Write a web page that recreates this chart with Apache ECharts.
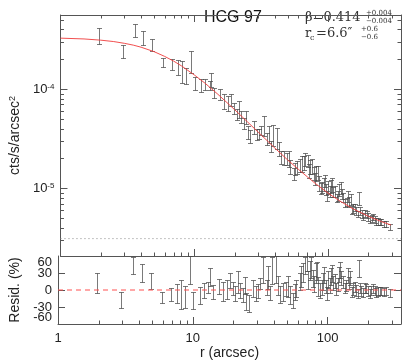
<!DOCTYPE html>
<html>
<head>
<meta charset="utf-8">
<title>HCG 97 profile</title>
<style>
  html, body { margin: 0; padding: 0; background: #fff; }
  #main { width: 409px; height: 361px; }
</style>
</head>
<body>
<div id="main"></div>
<script src="https://cdn.jsdelivr.net/npm/echarts@6/dist/echarts.min.js"></script>
<script>
// radial profile points (arcsec), surface brightness (cts/s/arcsec^2),
// residual (%) and error (%)
var radius = [
  1.95, 2.93, 3.61, 4.17, 4.86, 5.86, 6.84, 7.57, 8.15, 8.73,
  9.5, 10.05, 11.3, 12.06, 13.0, 13.4, 14.1, 15.6, 16.8, 17.8,
  18.8, 19.9, 20.7, 21.7, 22.5, 23.6, 24.3, 25.0, 26.1, 28.0,
  29.6, 30.4, 31.3, 33.2, 35.2, 36.1, 37.2, 38.9, 41.7, 42.9,
  44.1, 46.7, 49.4, 50.8, 52.3, 55.4, 57.0, 58.6, 62.1, 63.8,
  65.7, 67.6, 70.3, 71.5, 73.6, 75.7, 77.9, 79.7, 81.5, 83.3,
  84.8, 88.3, 90.3, 92.3, 94.5, 96.6, 98.8, 100.5, 103.5, 105.2,
  107.1, 109.5, 112.6, 115.9, 118.6, 121.3, 123.8, 126.3, 129.2, 133.6,
  137.6, 141.4, 144.3, 147.1, 150.6, 153.9, 158.5, 161.2, 166.9, 170.6,
  174.1, 177.7, 182.5, 188.0, 193.6, 199.0, 204.8, 210.8, 216.6, 223.0,
  229.4, 236.0, 242.7, 250.1, 259.9, 272.2, 287.8
];
var brightness = [
  3.50e-4, 2.42e-4, 3.95e-4, 3.33e-4, 2.80e-4, 1.87e-4, 1.79e-4, 1.68e-4, 1.54e-4, 1.38e-4,
  1.96e-4, 1.14e-4, 1.11e-4, 1.12e-4, 1.09e-4, 1.24e-4, 9.2e-5, 8.96e-5, 7.56e-5, 7.25e-5,
  7.84e-5, 6.43e-5, 5.58e-5, 6.38e-5, 5.27e-5, 4.56e-5, 5.22e-5, 3.73e-5, 3.39e-5, 4.15e-5,
  3.52e-5, 3.54e-5, 3.86e-5, 4.40e-5, 3.16e-5, 3.54e-5, 2.66e-5, 3.54e-5, 3.29e-5, 2.52e-5,
  2.07e-5, 2.03e-5, 1.99e-5, 1.99e-5, 1.66e-5, 1.40e-5, 1.58e-5, 1.64e-5, 1.72e-5, 1.79e-5,
  1.83e-5, 1.95e-5, 1.90e-5, 1.50e-5, 1.66e-5, 1.68e-5, 1.41e-5, 1.245e-5, 1.44e-5, 1.45e-5,
  1.13e-5, 1.005e-5, 1.03e-5, 1.11e-5, 1.19e-5, 9.78e-6, 8.46e-6, 1.04e-5, 9.32e-6, 1.055e-5,
  1.09e-5, 9.23e-6, 9.32e-6, 8.0e-6, 8.46e-6, 9.65e-6, 1.01e-5, 8.82e-6, 8.14e-6, 7.16e-6,
  7.32e-6, 8.34e-6, 7.28e-6, 7.74e-6, 6.03e-6, 6.32e-6, 6.43e-6, 5.94e-6, 5.51e-6, 7.98e-6,
  5.93e-6, 5.51e-6, 5.25e-6, 5.58e-6, 5.42e-6, 5.11e-6, 4.83e-6, 5.01e-6, 5.14e-6, 4.87e-6,
  4.60e-6, 4.64e-6, 4.62e-6, 4.59e-6, 4.36e-6, 4.39e-6, 4.09e-6
];
var resid = [
  12, -17, 44, 30, 16, -13, -8, -6, -8, -12,
  35, -18, -9, -1, 5, 23, -3, 6, -2, 1,
  17, 3, -6, 14, -1, -9, 8, -20, -23, 3,
  -6, -2, 11, 36, 5, 22, -5, 34, 36, 8,
  -8, -3, 2, 6, -9, -18, -4, 3, 15, 24,
  31, 44, 47, 18, 35, 40, 21, 10, 30, 34,
  6, -1, 4, 15, 26, 6, -6, 18, 8, 24,
  30, 12, 16, 2, 10, 28, 36, 21, 14, 3,
  8, 26, 12, 21, -4, 2, 6, -1, -6, 38,
  4, -2, -5, 3, 2, -2, -6, -1, 3, -1,
  -5, -3, -2, -1, -4, -1, -5
];
var errPct = [
  18, 14, 15, 16, 14, 10, 12, 17, 25, 19,
  25, 15, 15, 13, 10, 16, 12, 13, 17, 17,
  13, 12, 13, 19, 13, 13, 15, 15, 15, 15,
  13, 12, 10, 23, 13, 20, 12, 24, 24, 16,
  15, 16, 13, 18, 16, 13, 14, 15, 15, 18,
  16, 15, 14, 16, 17, 18, 15, 14, 17, 16,
  17, 13, 13, 15, 14, 12, 12, 15, 13, 15,
  15, 12, 12, 10, 12, 13, 14, 12, 11, 9,
  10, 13, 11, 12, 9, 10, 9, 10, 8, 15,
  9, 9, 8, 9, 8, 9, 8, 8, 8, 8,
  8, 8, 7, 7, 7, 7, 7
];

// beta-model fit curve
var modelR = [1, 1.5, 2, 2.5, 3, 3.5, 4, 5, 6, 7, 8, 10, 12, 15, 20, 25, 30, 35, 40, 50,
  60, 70, 80, 100, 120, 150, 200, 250, 295];
var modelSb = [3.27e-4, 3.21e-4, 3.12e-4, 3.02e-4, 2.90e-4, 2.78e-4, 2.65e-4, 2.39e-4, 2.14e-4, 1.92e-4,
  1.72e-4, 1.39e-4, 1.15e-4, 8.87e-5, 6.21e-5, 4.66e-5, 3.68e-5, 3.02e-5, 2.54e-5, 1.92e-5,
  1.55e-5, 1.30e-5, 1.12e-5, 8.9e-6, 7.55e-6, 6.3e-6, 5.2e-6, 4.6e-6, 4.25e-6];
var bkgLevel = 3.1e-6;

var xRange = [1, 350];
var sbRange = [2.07e-6, 5.6e-4];
var residRange = [-60, 60];
var residTicks = 30;
var xMinorTicks = [2, 3, 4, 5, 6, 7, 8, 9, 20, 30, 40, 50, 60, 70, 80, 90, 200, 300];
var yMinorTicks = [3e-6, 4e-6, 5e-6, 6e-6, 7e-6, 8e-6, 9e-6,
  2e-5, 3e-5, 4e-5, 5e-5, 6e-5, 7e-5, 8e-5, 9e-5, 2e-4, 3e-4, 4e-4, 5e-4];

var groupName = 'HCG 97';
var betaText = ['0.414', '+0.004', '\u22120.004'];
var rcText = ['6.6', '+0.6', '\u22120.6'];

var axisColor = '#555';
var barColor = 'rgba(70,70,70,0.72)';
var sansFont = '"Liberation Sans", Arial, sans-serif';
var serifFont = '"DejaVu Serif", serif';

var chart = echarts.init(document.getElementById('main'));

var sbBars = radius.map(function (r, i) {
  var e = errPct[i] / 100;
  return [r, brightness[i], brightness[i] * (1 - e), brightness[i] * (1 + e)];
});
var residBars = radius.map(function (r, i) {
  return [r, resid[i], resid[i] - errPct[i], resid[i] + errPct[i]];
});

function errorBar(params, api) {
  var x = Math.round(api.coord([api.value(0), api.value(1)])[0]) + 0.5;
  var lo = Math.round(api.coord([api.value(0), api.value(2)])[1]) + 0.5;
  var hi = Math.round(api.coord([api.value(0), api.value(3)])[1]) + 0.5;
  var st = { stroke: barColor, lineWidth: 1 };
  return {
    type: 'group',
    children: [
      { type: 'line', shape: { x1: x, y1: lo, x2: x, y2: hi }, style: st },
      { type: 'line', shape: { x1: x - 2.5, y1: lo, x2: x + 2.5, y2: lo }, style: st },
      { type: 'line', shape: { x1: x - 2.5, y1: hi, x2: x + 2.5, y2: hi }, style: st }
    ]
  };
}

// minor ticks of the log axes, drawn inward
function xMinorItem(bothSides) {
  return function (params, api) {
    var cs = params.coordSys;
    var x = Math.round(api.coord([api.value(0), api.value(1)])[0]) + 0.5;
    var st = { stroke: axisColor, lineWidth: 1 };
    var bottom = cs.y + cs.height;
    var kids = [{ type: 'line', shape: { x1: x, y1: bottom, x2: x, y2: bottom - 3.5 }, style: st }];
    if (bothSides) {
      kids.push({ type: 'line', shape: { x1: x, y1: cs.y, x2: x, y2: cs.y + 3.5 }, style: st });
    }
    return { type: 'group', children: kids };
  };
}
function yMinorItem(params, api) {
  var cs = params.coordSys;
  var y = Math.round(api.coord([api.value(0), api.value(1)])[1]) + 0.5;
  var st = { stroke: axisColor, lineWidth: 1 };
  var right = cs.x + cs.width;
  return {
    type: 'group',
    children: [
      { type: 'line', shape: { x1: cs.x, y1: y, x2: cs.x + 3.5, y2: y }, style: st },
      { type: 'line', shape: { x1: right, y1: y, x2: right - 3.5, y2: y }, style: st }
    ]
  };
}

function isPow10(v) {
  var e = Math.log10(v);
  return Math.abs(e - Math.round(e)) < 1e-6;
}

var lineOpt = { lineStyle: { color: axisColor, width: 1 }, onZero: false };
var tickOpt = { inside: true, length: 7, lineStyle: { color: axisColor } };

function xAxisOf(grid, pos, labels) {
  return {
    gridIndex: grid, type: 'log', logBase: 10, min: xRange[0], max: xRange[1], position: pos,
    axisLine: lineOpt, axisTick: tickOpt, splitLine: { show: false },
    name: labels ? 'r (arcsec)' : '', nameLocation: 'middle', nameGap: 21,
    nameTextStyle: { fontSize: 14, color: '#222', fontFamily: sansFont },
    axisLabel: {
      show: labels, margin: 8, fontSize: 13, color: '#222', fontFamily: sansFont,
      showMinLabel: true, showMaxLabel: false,
      formatter: function (v) { return isPow10(v) ? String(Math.round(v)) : ''; }
    }
  };
}

function sbAxis(pos, labels) {
  return {
    gridIndex: 0, type: 'log', logBase: 10, min: sbRange[0], max: sbRange[1], position: pos,
    axisLine: lineOpt, axisTick: tickOpt, splitLine: { show: false },
    name: labels ? '{a|cts/s/arcsec}{s|2}' : '', nameLocation: 'middle', nameGap: 33,
    nameTextStyle: {
      color: '#222', fontFamily: sansFont, fontSize: 14,
      rich: { a: { fontSize: 14, fontFamily: sansFont, color: '#222' },
              s: { fontSize: 9, fontFamily: sansFont, color: '#222', verticalAlign: 'top' } }
    },
    axisLabel: {
      show: labels, margin: 6, showMinLabel: false, showMaxLabel: false,
      formatter: function (v) {
        if (!isPow10(v)) return '';
        return '{b|10}{s|' + Math.round(Math.log10(v)) + '}';
      },
      rich: { b: { fontSize: 13, fontFamily: sansFont, color: '#222' },
              s: { fontSize: 8, fontFamily: sansFont, color: '#222', verticalAlign: 'top' } }
    }
  };
}

// inner labels (30, 0, -30) on the main residual axis
function residAxis(pos, labels) {
  return {
    gridIndex: 1, type: 'value', min: residRange[0], max: residRange[1], interval: residTicks,
    position: pos, axisLine: lineOpt, axisTick: tickOpt, splitLine: { show: false },
    name: labels ? 'Resid. (%)' : '', nameLocation: 'middle', nameGap: 33,
    nameTextStyle: { fontSize: 14, color: '#222', fontFamily: sansFont },
    axisLabel: {
      show: labels, margin: 6, fontSize: 13, color: '#222', fontFamily: sansFont,
      showMinLabel: false, showMaxLabel: false
    }
  };
}

// end labels (60, -60) on a bare overlay axis, pushed inside the panel
var residEndAxis = {
  gridIndex: 1, type: 'value', min: residRange[0], max: residRange[1], interval: residTicks,
  position: 'left', axisLine: { show: false }, axisTick: { show: false }, splitLine: { show: false },
  axisLabel: {
    margin: 6, fontSize: 13, color: '#222', fontFamily: sansFont,
    showMinLabel: true, showMaxLabel: true,
    verticalAlignMaxLabel: 'top', verticalAlignMinLabel: 'bottom',
    formatter: function (v) { return Math.abs(v) === residRange[1] ? String(v) : ''; }
  }
};

var option = {
  backgroundColor: '#fff',
  animation: false,
  grid: [
    { left: 58, top: 15, width: 343, height: 241 },
    { left: 58, top: 256, width: 343, height: 68 }
  ],
  xAxis: [xAxisOf(0, 'bottom', false), xAxisOf(0, 'top', false), xAxisOf(1, 'bottom', true)],
  yAxis: [sbAxis('left', true), sbAxis('right', false), residAxis('left', true), residAxis('right', false), residEndAxis],
  graphic: [
    { type: 'text', left: 204, top: 10, style: { text: groupName, font: '16px ' + sansFont, fill: '#111' } },
    { type: 'text', left: 305, top: 11, style: { text: '\u03b2=' + betaText[0], font: '13px ' + serifFont, fill: '#333' } },
    { type: 'text', left: 366, top: 10, style: { text: betaText[1], font: '7px ' + serifFont, fill: '#333' } },
    { type: 'text', left: 366, top: 18, style: { text: betaText[2], font: '7px ' + serifFont, fill: '#333' } },
    { type: 'text', left: 305, top: 27, style: { text: 'r', font: '13px ' + serifFont, fill: '#333' } },
    { type: 'text', left: 310, top: 34, style: { text: 'c', font: '8px ' + serifFont, fill: '#333' } },
    { type: 'text', left: 316, top: 27, style: { text: '=' + rcText[0] + '\u2033', font: '13px ' + serifFont, fill: '#333' } },
    { type: 'text', left: 361, top: 26, style: { text: rcText[1], font: '7px ' + serifFont, fill: '#333' } },
    { type: 'text', left: 361, top: 34, style: { text: rcText[2], font: '7px ' + serifFont, fill: '#333' } }
  ],
  series: [
    {
      type: 'line', xAxisIndex: 0, yAxisIndex: 0, showSymbol: false, silent: true,
      data: [[xRange[0], bkgLevel], [xRange[1], bkgLevel]],
      lineStyle: { color: '#888', width: 1, type: [1, 3] }
    },
    {
      type: 'custom', xAxisIndex: 0, yAxisIndex: 0, clip: true, z: 3,
      renderItem: errorBar, data: sbBars
    },
    {
      type: 'line', xAxisIndex: 0, yAxisIndex: 0, showSymbol: false, silent: true, z: 4,
      data: modelR.map(function (r, i) { return [r, modelSb[i]]; }),
      lineStyle: { color: '#f03c3c', width: 1, opacity: 0.9 }
    },
    {
      type: 'custom', xAxisIndex: 0, yAxisIndex: 0, clip: false,
      renderItem: xMinorItem(true), data: xMinorTicks.map(function (v) { return [v, 1e-5]; })
    },
    {
      type: 'custom', xAxisIndex: 0, yAxisIndex: 0, clip: false,
      renderItem: yMinorItem, data: yMinorTicks.map(function (v) { return [2, v]; })
    },
    {
      type: 'line', xAxisIndex: 2, yAxisIndex: 2, showSymbol: false, silent: true, z: 4,
      data: [[xRange[0], 0], [xRange[1], 0]],
      lineStyle: { color: '#ff5050', width: 1, type: [5, 4] }
    },
    {
      type: 'custom', xAxisIndex: 2, yAxisIndex: 2, clip: true, z: 3,
      renderItem: errorBar, data: residBars
    },
    {
      type: 'custom', xAxisIndex: 2, yAxisIndex: 2, clip: false,
      renderItem: xMinorItem(false), data: xMinorTicks.map(function (v) { return [v, 0]; })
    }
  ]
};

chart.setOption(option);
</script>
</body>
</html>
